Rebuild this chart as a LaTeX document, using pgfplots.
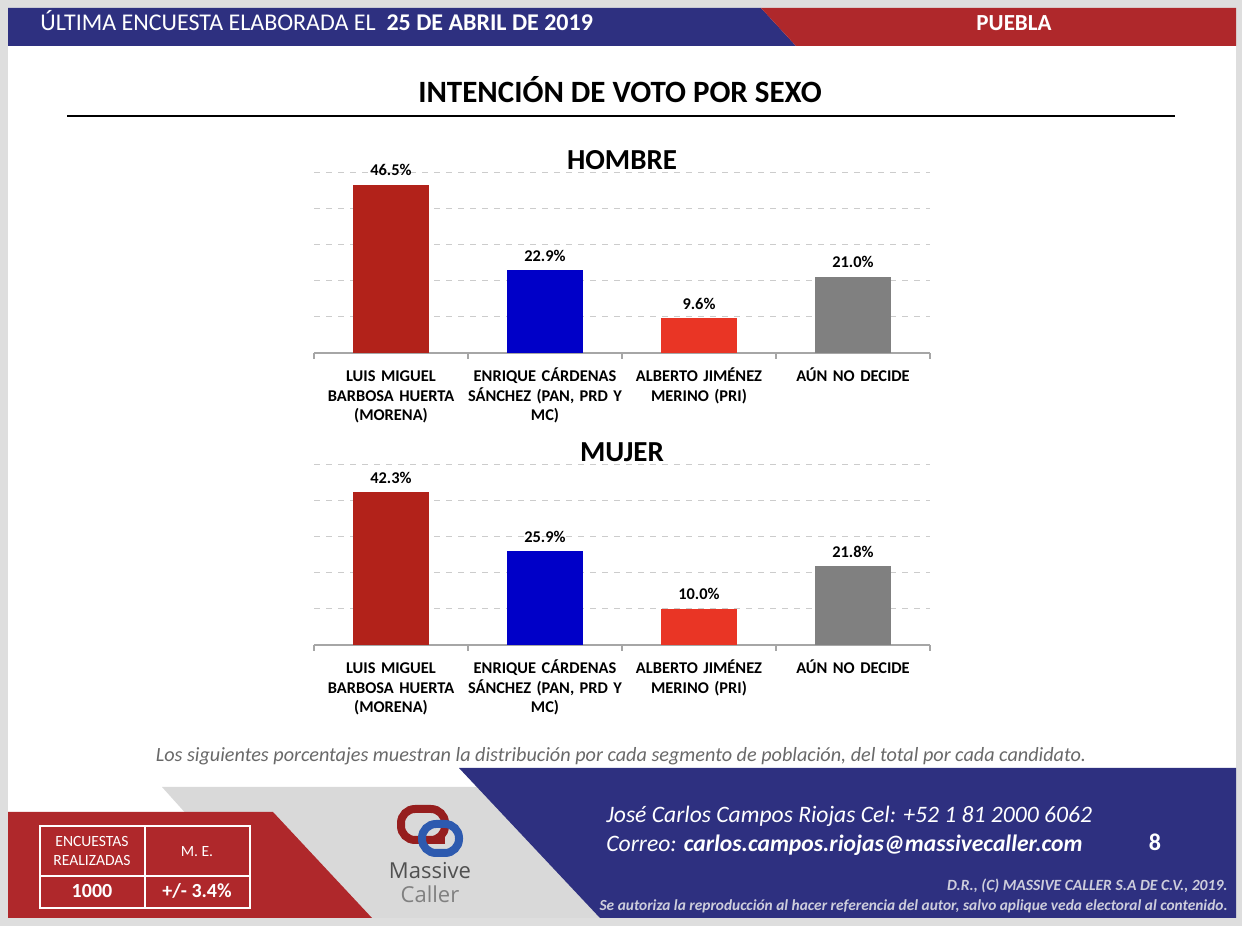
\documentclass[border=0pt]{standalone}
\usepackage{pgfplots}
\pgfplotsset{compat=1.18}
\usepackage{fontspec}
\setmainfont{Carlito}
\newfontfamily\logofont{Open Sans}
\definecolor{bggray}{RGB}{222,222,222}
\definecolor{hblue}{RGB}{46,48,128}
\definecolor{hred}{RGB}{175,40,43}
\definecolor{cMorena}{RGB}{178,34,26}
\definecolor{cPAN}{RGB}{0,0,200}
\definecolor{cPRI}{RGB}{233,53,37}
\definecolor{cND}{RGB}{128,128,128}
\definecolor{fgray}{RGB}{217,217,217}
\definecolor{notegray}{RGB}{105,105,105}
\definecolor{smallgray}{RGB}{205,205,220}
\definecolor{logored}{RGB}{150,30,30}
\definecolor{logoblue}{RGB}{45,90,175}
\definecolor{logotext}{RGB}{80,80,80}

\pgfplotsset{
  votestyle/.style={
    scale only axis, width=308pt, height=90.25pt,
    ymin=0, ymax=50, xmin=-0.5, xmax=3.5,
    axis x line*=bottom, axis y line*=left,
    y axis line style={draw=none},
    x axis line style={draw=gray!70, line width=0.6pt},
    ytick={10,20,30,40,50}, yticklabels={}, ytick style={draw=none},
    ymajorgrids, grid style={dashed, gray!40, line width=0.4pt},
    xtick={0,1,2,3}, major tick length=0pt,
    tick style={draw=gray!70, line width=0.6pt},
    xticklabels={{\vphantom{Á}LUIS MIGUEL\\BARBOSA HUERTA\\(MORENA)},
                 {ENRIQUE CÁRDENAS\\SÁNCHEZ (PAN, PRD Y\\MC)},
                 {ALBERTO JIMÉNEZ\\MERINO (PRI)},
                 {AÚN NO DECIDE}},
    xticklabel style={font=\fontsize{8.2}{9.6}\selectfont\bfseries, align=center, text width=90pt, anchor=north, yshift=-4pt},
    extra x ticks={-0.5,0.5,1.5,2.5,3.5}, extra x tick labels={},
    extra x tick style={major tick length=3pt, tick align=outside},
    nodes near coords={\pgfmathprintnumber[fixed,fixed zerofill,precision=1]{\pgfplotspointmeta}\%},
    every node near coord/.append style={font=\fontsize{8.2}{10}\selectfont\bfseries, text=black, yshift=1pt},
    /pgf/number format/assume math mode=true,
    title style={font=\fontsize{14.5}{16}\selectfont\bfseries, yshift=-8pt},
    clip=false,
  },
  bstyle/.style={ybar, bar width=38pt, bar shift=0pt, draw=none, fill=#1},
}

\begin{document}
\begin{tikzpicture}
\begin{scope}[shift={(0pt,463pt)}, x=0.5pt, y=-0.5pt]
  \fill[bggray] (0,0) rectangle (1242,926);
  \fill[white] (8,8) rectangle (1236,918);
  % header
  \fill[hblue] (8,8) -- (761,8) -- (796,46) -- (8,46) -- cycle;
  \fill[hred] (761,8) -- (1236,8) -- (1236,46) -- (796,46) -- cycle;
  \node[anchor=base west, text=white, font=\fontsize{12}{13}\selectfont, inner sep=0] at (40,31)
    {ÚLTIMA ENCUESTA ELABORADA EL\ \ \textbf{25 DE ABRIL DE 2019}};
  \node[anchor=base, text=white, font=\fontsize{11.5}{12}\selectfont\bfseries, inner sep=0] at (1014,31) {PUEBLA};
  % title
  \node[anchor=base, font=\fontsize{15.5}{16}\selectfont\bfseries, inner sep=0] at (620,103) {INTENCIÓN DE VOTO POR SEXO};
  \draw[line width=1pt] (67,116) -- (1175,116);
  % footnote
  \node[anchor=base, text=notegray, font=\fontsize{10.1}{12}\selectfont\itshape, inner sep=0] at (621,762)
    {Los siguientes porcentajes muestran la distribución por cada segmento de población, del total por cada candidato.};
  % footer shapes
  \fill[fgray] (162,787) -- (560,787) -- (680,918) -- (280,918) -- cycle;
  \fill[hred] (8,812) -- (273,812) -- (372,918) -- (8,918) -- cycle;
  \fill[hblue] (459,768) -- (1236,768) -- (1236,918) -- (600,918) -- cycle;
  % table
  \draw[white, line width=0.6pt] (40,826) rectangle (250,908);
  \draw[white, line width=0.6pt] (145,826) -- (145,908);
  \draw[white, line width=0.6pt] (40,876) -- (250,876);
  \node[anchor=base, text=white, font=\fontsize{7.8}{9}\selectfont, inner sep=0] at (92,847) {ENCUESTAS};
  \node[anchor=base, text=white, font=\fontsize{7.8}{9}\selectfont, inner sep=0] at (92,866) {REALIZADAS};
  \node[anchor=base, text=white, font=\fontsize{7.8}{9}\selectfont, inner sep=0] at (197,857) {M. E.};
  \node[anchor=base, text=white, font=\fontsize{10}{12}\selectfont\bfseries, inner sep=0] at (92,898) {1000};
  \node[anchor=base, text=white, font=\fontsize{10}{12}\selectfont\bfseries, inner sep=0] at (197,898) {+/- 3.4\%};
  % logo
  \draw[logored, line width=4pt, rounded corners=7pt] (401,809) rectangle (445,840);
  \draw[logoblue, line width=4pt, rounded corners=7pt] (422,824) rectangle (459,853);
  \draw[logored, line width=4pt] (445,840) -- (430,840);
  \node[anchor=base, text=logotext, font=\logofont\fontsize{11}{12}\selectfont, inner sep=0] at (430,879) {Massive};
  \node[anchor=base, text=gray, font=\logofont\fontsize{11}{12}\selectfont, inner sep=0] at (430,903) {Caller};
  % contact
  \node[anchor=base west, text=white, font=\fontsize{11.8}{13}\selectfont\itshape, inner sep=0] at (606,823)
    {José Carlos Campos Riojas Cel: +52 1 81 2000 6062};
  \node[anchor=base west, text=white, font=\fontsize{11.8}{13}\selectfont\itshape, inner sep=0] at (606,852)
    {Correo: \textbf{carlos.campos.riojas@massivecaller.com}};
  \node[anchor=base, text=white, font=\fontsize{12}{13}\selectfont\bfseries, inner sep=0] at (1155,851) {8};
  \node[anchor=base east, text=smallgray, font=\fontsize{7.8}{9}\selectfont\bfseries\itshape, inner sep=0] at (1228,891)
    {D.R., (C) MASSIVE CALLER S.A DE C.V., 2019.};
  \node[anchor=base east, text=smallgray, font=\fontsize{7.7}{9}\selectfont\bfseries\itshape, inner sep=0] at (1228,911)
    {Se autoriza la reproducción al hacer referencia del autor, salvo aplique veda electoral al contenido.};
\end{scope}

% HOMBRE
\begin{axis}[votestyle, at={(157pt,286.5pt)}, anchor=south west, title={HOMBRE}]
  \addplot[bstyle=cMorena] coordinates {(0,46.5)};
  \addplot[bstyle=cPAN] coordinates {(1,22.9)};
  \addplot[bstyle=cPRI] coordinates {(2,9.6)};
  \addplot[bstyle=cND] coordinates {(3,21.0)};
\end{axis}

% MUJER
\begin{axis}[votestyle, at={(157pt,140.5pt)}, anchor=south west, title={MUJER}]
  \addplot[bstyle=cMorena] coordinates {(0,42.3)};
  \addplot[bstyle=cPAN] coordinates {(1,25.9)};
  \addplot[bstyle=cPRI] coordinates {(2,10.0)};
  \addplot[bstyle=cND] coordinates {(3,21.8)};
\end{axis}
\end{tikzpicture}
\end{document}
